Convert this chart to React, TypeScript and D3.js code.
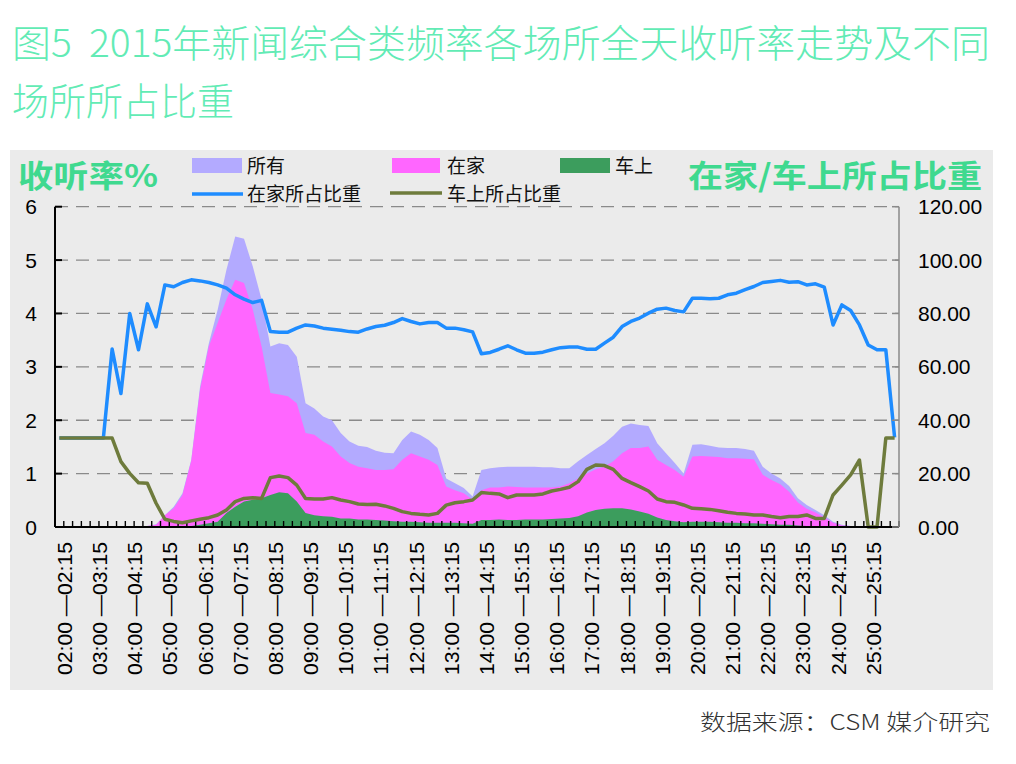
import * as d3 from "d3";

// quarter-hour slots 02:00 .. 25:45 (96 categories)
const allRating = [
  0.005, 0.005, 0.005, 0.005, 0.005, 0.005, 0.005, 0.005, 0.01, 0.02, 0.02, 0.05,
  0.22, 0.38, 0.63, 1.26, 2.63, 3.44, 4.07, 4.82, 5.44, 5.4, 4.88, 4.26,
  3.38, 3.44, 3.41, 3.19, 2.32, 2.22, 2.07, 2.0, 1.76, 1.6, 1.52, 1.5,
  1.43, 1.39, 1.38, 1.63, 1.79, 1.73, 1.63, 1.48, 0.91, 0.82, 0.73, 0.57,
  1.07, 1.1, 1.12, 1.13, 1.13, 1.13, 1.13, 1.12, 1.12, 1.1, 1.1, 1.23,
  1.35, 1.46, 1.57, 1.71, 1.88, 1.94, 1.91, 1.89, 1.57, 1.38, 1.2, 1.0,
  1.54, 1.55, 1.52, 1.49, 1.48, 1.48, 1.46, 1.43, 1.13, 1.0, 0.91, 0.77,
  0.54, 0.41, 0.32, 0.22, 0.1, 0.04, 0.02, 0.01, 0.005, 0.005, 0.005, 0.005,
];

const homeRating = [
  0, 0, 0, 0, 0, 0, 0, 0, 0.01, 0.02, 0.02, 0.04,
  0.22, 0.35, 0.6, 1.24, 2.57, 3.38, 3.82, 4.26, 4.63, 4.57, 4.07, 3.38,
  2.51, 2.48, 2.45, 2.32, 1.76, 1.73, 1.6, 1.51, 1.32, 1.2, 1.13, 1.1,
  1.07, 1.07, 1.08, 1.26, 1.38, 1.32, 1.26, 1.16, 0.76, 0.69, 0.63, 0.51,
  0.69, 0.74, 0.74, 0.76, 0.75, 0.74, 0.74, 0.74, 0.74, 0.76, 0.82, 0.91,
  1.0, 1.08, 1.13, 1.23, 1.38, 1.48, 1.48, 1.51, 1.26, 1.16, 1.07, 0.94,
  1.32, 1.33, 1.32, 1.31, 1.29, 1.29, 1.28, 1.27, 0.98, 0.88, 0.8, 0.66,
  0.46, 0.34, 0.27, 0.18, 0.08, 0.03, 0.02, 0.01, 0, 0, 0, 0,
];

const carRating = [
  0.005, 0.005, 0.005, 0.005, 0.005, 0.005, 0.005, 0.005, 0.005, 0.005, 0.005, 0.005,
  0.005, 0.005, 0.01, 0.02, 0.04, 0.07, 0.1, 0.26, 0.38, 0.48, 0.51, 0.54,
  0.6, 0.65, 0.63, 0.48, 0.26, 0.22, 0.2, 0.19, 0.16, 0.16, 0.14, 0.14,
  0.13, 0.12, 0.11, 0.1, 0.1, 0.09, 0.08, 0.08, 0.08, 0.08, 0.07, 0.06,
  0.13, 0.13, 0.14, 0.13, 0.13, 0.14, 0.14, 0.14, 0.15, 0.16, 0.17, 0.2,
  0.27, 0.32, 0.34, 0.35, 0.35, 0.33, 0.29, 0.25, 0.18, 0.13, 0.11, 0.09,
  0.1, 0.1, 0.1, 0.09, 0.08, 0.08, 0.07, 0.07, 0.06, 0.05, 0.04, 0.04,
  0.03, 0.02, 0.01, 0.01, 0.01, 0, 0, 0, 0, 0, 0, 0,
];

const homeShare = [
  33.3, 33.3, 33.3, 33.3, 33.3, 33.3, 66.7, 50, 80, 66.4, 83.6, 75,
  90.7, 90, 91.6, 92.6, 92.2, 91.6, 90.7, 89.5, 87, 85.4, 84.1, 84.9,
  73.2, 73, 73, 74.5, 75.7, 75.3, 74.5, 74.1, 73.7, 73.2, 73, 74.2,
  75.1, 75.6, 76.6, 78.1, 77, 76.1, 76.6, 76.6, 74.5, 74.5, 73.9, 73.1,
  64.9, 65.4, 66.6, 67.9, 66.4, 65.1, 65.1, 65.5, 66.4, 67.2, 67.4, 67.4,
  66.6, 66.6, 68.9, 71.1, 75.1, 77, 78.3, 80.1, 81.6, 82, 81.1, 80.6,
  85.7, 85.7, 85.5, 85.7, 87, 87.6, 88.9, 90.1, 91.6, 92, 92.4, 91.7,
  91.9, 90.7, 91.1, 89.9, 75.7, 83.2, 81.1, 75.7, 68.2, 66.4, 66.4, 33.6,
];

const carShare = [
  33.3, 33.3, 33.3, 33.3, 33.3, 33.3, 33.3, 24.5, 20.1, 16.6, 16.4, 8.9,
  2.9, 2.1, 1.6, 2.3, 2.9, 3.5, 4.5, 6.4, 9.5, 10.7, 11, 10.7,
  18.5, 19.1, 18.5, 15.7, 10.7, 10.5, 10.5, 11, 10.1, 9.5, 8.6, 8.4,
  8.5, 7.9, 7.0, 5.75, 5.1, 4.75, 4.5, 5.1, 8.2, 9.1, 9.5, 10.1,
  12.9, 12.6, 12.4, 11, 12, 12, 12, 12.4, 13.5, 14.1, 14.9, 17,
  21.6, 23.25, 23, 21.6, 18.2, 16.6, 15.1, 13.5, 10.5, 9.5, 9.25, 8.25,
  7, 6.8, 6.6, 6.1, 5.5, 5.1, 4.9, 4.5, 4.5, 3.9, 3.5, 3.9,
  3.9, 4.5, 3.2, 3.2, 12, 15.7, 19.5, 25.1, 0, 0, 33.3, 33.3,
];

// every 4th slot is labelled
const hourLabels = [
  "02:00 —02:15", "03:00 —03:15", "04:00 —04:15", "05:00 —05:15",
  "06:00 —06:15", "07:00 —07:15", "08:00 —08:15", "09:00 —09:15",
  "10:00 —10:15", "11:00 —11:15", "12:00 —12:15", "13:00 —13:15",
  "14:00 —14:15", "15:00 —15:15", "16:00 —16:15", "17:00 —17:15",
  "18:00 —18:15", "19:00 —19:15", "20:00 —20:15", "21:00 —21:15",
  "22:00 —22:15", "23:00 —23:15", "24:00 —24:15", "25:00 —25:15",
];

const leftTicks = [0, 1, 2, 3, 4, 5, 6];
const rightTicks = [0, 20, 40, 60, 80, 100, 120];

const FONT = "'Liberation Sans', 'Noto Sans CJK SC', sans-serif";
const CJK = "'Noto Sans CJK SC', 'Liberation Sans', sans-serif";

export default function App() {
  const width = 1016;
  const height = 764;
  const left = 55, right = 899, top = 206.7, bottom = 527;

  const x = d3.scaleBand<number>().domain(d3.range(allRating.length)).range([left, right]);
  const cx = (i: number) => (x(i) as number) + x.bandwidth() / 2;
  const yL = d3.scaleLinear().domain([0, 6]).range([bottom, top]);
  const yR = d3.scaleLinear().domain([0, 120]).range([bottom, top]);

  const area = d3.area<number>()
    .x((_, i) => cx(i))
    .y0(bottom)
    .y1(d => yL(d));
  const line = d3.line<number>()
    .x((_, i) => cx(i))
    .y(d => yR(d));

  const fmt = d3.format(".2f");
  const slotEdges = d3.range(allRating.length + 1).map(i =>
    i < allRating.length ? (x(i) as number) : right);

  return (
    <svg width={width} height={height} viewBox={`0 0 ${width} ${height}`}
      style={{ position: "absolute", left: 0, top: 0, background: "#fff" }}>
      {/* title */}
      <text x={12} y={57} fontFamily={CJK} fontWeight={300} fontSize={38} fill="#62ebb5"
        textLength={978} lengthAdjust="spacingAndGlyphs" style={{ whiteSpace: "pre" }}>
        {"图5  2015年新闻综合类频率各场所全天收听率走势及不同"}
      </text>
      <text x={12} y={115} fontFamily={CJK} fontWeight={300} fontSize={38} fill="#62ebb5"
        textLength={222} lengthAdjust="spacingAndGlyphs">
        场所所占比重
      </text>

      {/* panel */}
      <rect x={10} y={150} width={983} height={540} fill="#ebebeb" />

      {/* axis titles */}
      <text x={18} y={187} fontFamily={CJK} fontWeight={700} fontSize={31} fill="#3fd98f"
        textLength={140} lengthAdjust="spacingAndGlyphs">收听率%</text>
      <text x={688} y={187} fontFamily={CJK} fontWeight={700} fontSize={31} fill="#3fd98f"
        textLength={294} lengthAdjust="spacingAndGlyphs">在家/车上所占比重</text>

      {/* legend */}
      <g fontFamily={CJK} fontSize={19} fill="#111">
        <rect x={192} y={158} width={50} height={15} fill="#b3aaff" />
        <text x={247} y={173}>所有</text>
        <rect x={392} y={158} width={48} height={15} fill="#ff66ff" />
        <text x={447} y={173}>在家</text>
        <rect x={560} y={158} width={50} height={15} fill="#3c9d5d" />
        <text x={615} y={173}>车上</text>
        <line x1={192} x2={243} y1={194} y2={194} stroke="#1e8cff" strokeWidth={3.5} />
        <text x={247} y={201}>在家所占比重</text>
        <line x1={390} x2={442} y1={193} y2={193} stroke="#6e7b3c" strokeWidth={3.5} />
        <text x={447} y={201}>车上所占比重</text>
      </g>

      {/* gridlines */}
      {leftTicks.filter(t => t > 0).map(t => (
        <line key={`g${t}`} x1={left} x2={right} y1={yL(t)} y2={yL(t)}
          stroke="#8a8a8a" strokeWidth={1.3} strokeDasharray="13,8" />
      ))}

      {/* areas */}
      <path d={area(allRating) ?? ""} fill="#b3aaff" />
      <path d={area(homeRating) ?? ""} fill="#ff66ff" />
      <path d={area(carRating) ?? ""} fill="#3c9d5d" />

      {/* category ticks */}
      {slotEdges.map((sx, i) => (
        <line key={`t${i}`} x1={sx} x2={sx} y1={bottom - 6} y2={bottom} stroke="#000" strokeWidth={1.4} />
      ))}

      {/* share lines */}
      <path d={line(homeShare) ?? ""} fill="none" stroke="#1e8cff" strokeWidth={3.5} strokeLinejoin="round" />
      <path d={line(carShare) ?? ""} fill="none" stroke="#6e7b3c" strokeWidth={3.5} strokeLinejoin="round" />

      {/* left axis */}
      <line x1={left} x2={left} y1={top} y2={bottom} stroke="#000" strokeWidth={2} />
      {leftTicks.map(t => (
        <g key={`l${t}`}>
          <line x1={left} x2={left + 7} y1={yL(t)} y2={yL(t)} stroke="#000" strokeWidth={2} />
          <text x={37} y={yL(t)} dy="0.36em" textAnchor="end" fontFamily={FONT} fontSize={21} fill="#000">{t}</text>
        </g>
      ))}
      <line x1={left} x2={right} y1={bottom} y2={bottom} stroke="#000" strokeWidth={2} />

      {/* right axis */}
      <line x1={right} x2={right} y1={top} y2={bottom} stroke="#8a8a8a" strokeWidth={1.5} />
      {rightTicks.map(t => (
        <g key={`r${t}`}>
          <line x1={right - 7} x2={right} y1={yR(t)} y2={yR(t)} stroke="#8a8a8a" strokeWidth={1.5} />
          <text x={918} y={yR(t)} dy="0.36em" fontFamily={FONT} fontSize={21} fill="#000">{fmt(t)}</text>
        </g>
      ))}

      {/* category labels */}
      {hourLabels.map((lab, k) => (
        <text key={lab} transform={`translate(${cx(k * 4) + 5},${542}) rotate(-90)`}
          dy="0.36em" textAnchor="end" fontFamily={FONT} fontSize={21} fill="#000"
          textLength={133} lengthAdjust="spacingAndGlyphs">{lab}</text>
      ))}

      {/* source */}
      <text x={990} y={730} textAnchor="end" fontFamily={CJK} fontWeight={300} fontSize={22} fill="#333"
        textLength={290} lengthAdjust="spacingAndGlyphs">数据来源：CSM 媒介研究</text>
    </svg>
  );
}
